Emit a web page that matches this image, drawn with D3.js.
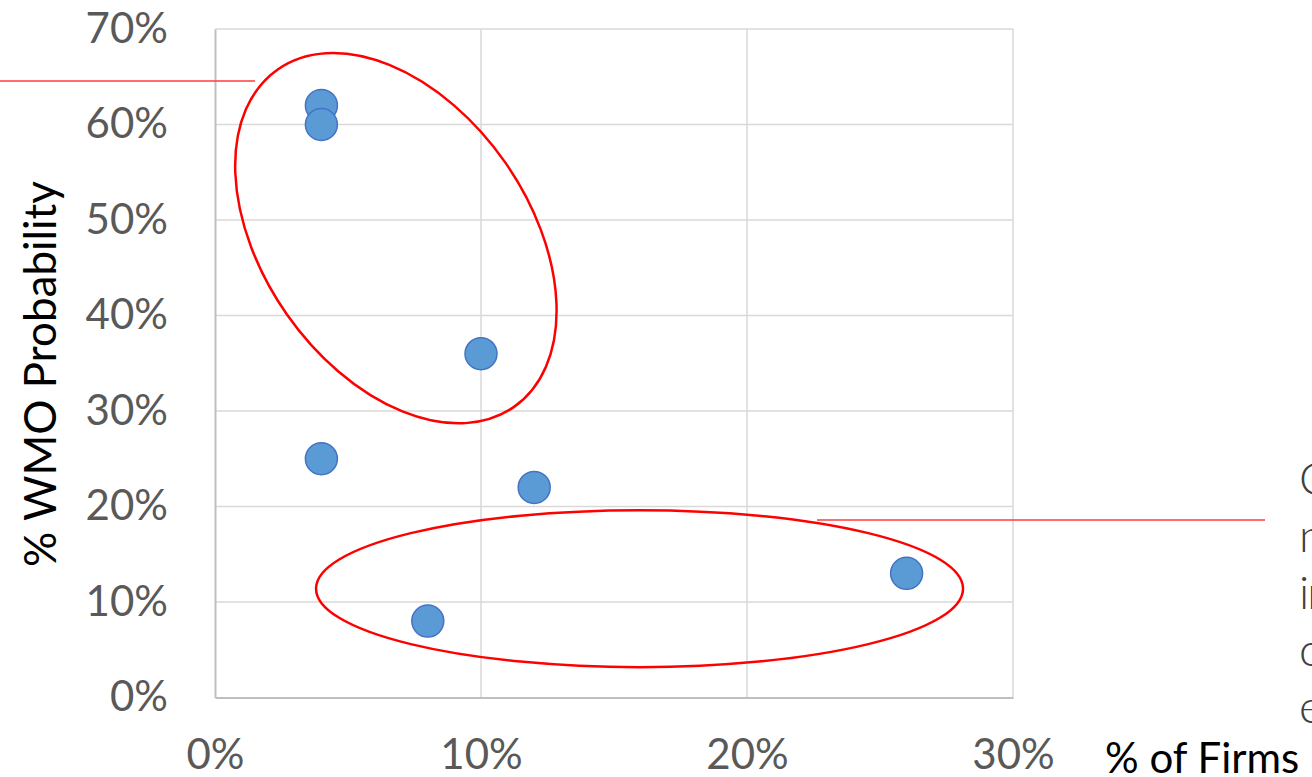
<!DOCTYPE html>
<html>
<head>
<meta charset="utf-8">
<script src="https://cdn.jsdelivr.net/npm/d3@7"></script>
<style>
  html, body { margin: 0; padding: 0; background: #ffffff; overflow: hidden; }
  svg { display: block; }
</style>
</head>
<body>
<svg id="chart" width="1312" height="777"></svg>
<script>
// Share of firms (x) vs. probability of WMO (y), one point per group
const firmShare   = [0.04, 0.04, 0.10, 0.04, 0.12, 0.08, 0.26];
const wmoProb     = [0.62, 0.60, 0.36, 0.25, 0.22, 0.08, 0.13];
const xTicks      = [0, 0.10, 0.20, 0.30];
const yTicks      = [0, 0.10, 0.20, 0.30, 0.40, 0.50, 0.60, 0.70];
const xTitle      = "% of Firms";
const yTitle      = "% WMO Probability";
const sideNote    = ["O", "n", "in", "o", "e"];

const svg = d3.select("#chart");
const plot = { left: 215, right: 1013, top: 29, bottom: 697.5 };

const x = d3.scaleLinear().domain([0, 0.30]).range([plot.left, plot.right]);
const y = d3.scaleLinear().domain([0, 0.70]).range([plot.bottom, plot.top]);
const pct = d3.format(".0%");

const FONT = "Lato, 'Open Sans', sans-serif";

// Gridlines
svg.append("g").selectAll("line").data(yTicks.filter(t => t > 0)).join("line")
  .attr("x1", plot.left).attr("x2", plot.right)
  .attr("y1", d => y(d)).attr("y2", d => y(d))
  .attr("stroke", "#d9d9d9").attr("stroke-width", 1.5);
svg.append("g").selectAll("line").data(xTicks.filter(t => t > 0)).join("line")
  .attr("y1", plot.top).attr("y2", plot.bottom)
  .attr("x1", d => x(d)).attr("x2", d => x(d))
  .attr("stroke", "#d9d9d9").attr("stroke-width", 1.5);

// Axes
const yAxis = svg.append("g").attr("transform", `translate(${plot.left},0)`)
  .call(d3.axisLeft(y).tickValues(yTicks).tickSize(0).tickFormat(pct).tickPadding(47));
const xAxis = svg.append("g").attr("transform", `translate(0,${plot.bottom})`)
  .call(d3.axisBottom(x).tickValues(xTicks).tickSize(0).tickFormat(pct).tickPadding(42));
[yAxis, xAxis].forEach(a => {
  a.select(".domain").attr("stroke", "#bfbfbf").attr("stroke-width", 2);
  a.selectAll("text").attr("font-family", FONT).attr("font-size", 42)
    .attr("fill", "#595959");
});
xAxis.selectAll("text").attr("dy", "0.71em");

// Axis titles
svg.append("text")
  .attr("transform", `translate(56,374) rotate(-90)`)
  .attr("text-anchor", "middle")
  .attr("font-family", FONT).attr("font-size", 44).attr("fill", "#000")
  .text(yTitle);
svg.append("text")
  .attr("x", 1105).attr("y", 773)
  .attr("font-family", FONT).attr("font-size", 42).attr("fill", "#000")
  .text(xTitle);

// Callout connectors
svg.append("line").attr("x1", 0).attr("x2", 255).attr("y1", 81).attr("y2", 81)
  .attr("stroke", "#ff3b3b").attr("stroke-width", 1.5);
svg.append("line").attr("x1", 817).attr("x2", 1265).attr("y1", 520).attr("y2", 520)
  .attr("stroke", "#ff3b3b").attr("stroke-width", 1.5);

// Highlight rings around the two clusters
svg.append("ellipse")
  .attr("transform", `translate(${x(0.068)},${y(0.481)}) rotate(55)`)
  .attr("rx", 206).attr("ry", 133)
  .attr("fill", "none").attr("stroke", "#ff0000").attr("stroke-width", 2.5);
svg.append("ellipse")
  .attr("transform", `translate(${x(0.1596)},${y(0.114)})`)
  .attr("rx", 323.5).attr("ry", 78.5)
  .attr("fill", "none").attr("stroke", "#ff0000").attr("stroke-width", 2.5);

// Points
svg.append("g").selectAll("circle").data(firmShare).join("circle")
  .attr("cx", d => x(d))
  .attr("cy", (d, i) => y(wmoProb[i]))
  .attr("r", 16)
  .attr("fill", "#5b9bd5").attr("stroke", "#4472c4").attr("stroke-width", 1.5);

// Side note text running off the right edge
svg.append("g").selectAll("text").data(sideNote).join("text")
  .attr("x", 1299)
  .attr("y", (d, i) => 495 + i * 57)
  .attr("font-family", FONT).attr("font-weight", 300).attr("font-size", 46)
  .attr("fill", "#404040")
  .attr("letter-spacing", -2)
  .text(d => d);
</script>
</body>
</html>
